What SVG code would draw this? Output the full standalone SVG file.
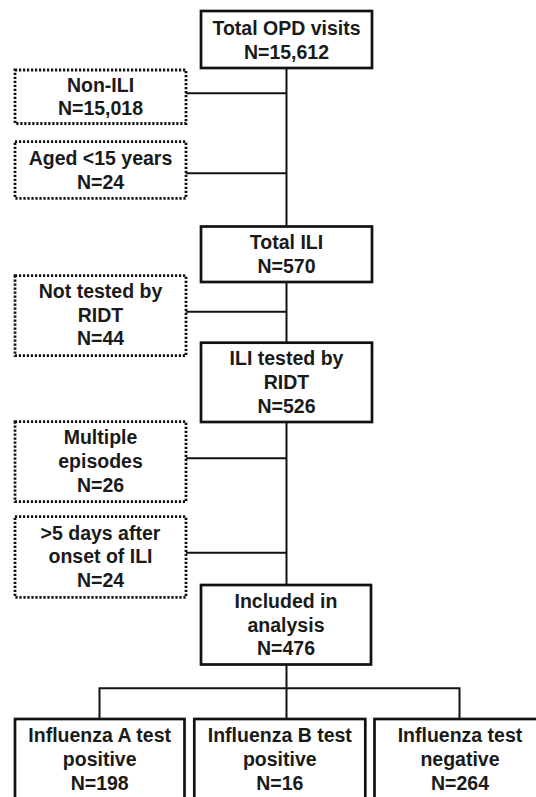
<svg xmlns="http://www.w3.org/2000/svg" width="536" height="797" viewBox="0 0 536 797">
<style>
  .box { fill: #ffffff; stroke: #111111; stroke-width: 2.7; }
  .dot { fill: #ffffff; stroke: #111111; stroke-width: 2.8; stroke-dasharray: 2.2 1.8; }
  .edge { fill: none; stroke: #111111; stroke-width: 2; }
  text { font-family: "Liberation Sans", Arial, sans-serif; font-weight: bold; font-size: 19.5px; fill: #1a1a1a; text-anchor: middle; }
</style>
<rect x="0" y="0" width="536" height="797" fill="#ffffff"/>
<g id="connectors">
  <path class="edge" d="M286.5,68 V226.5"/>
  <path class="edge" d="M186,93.3 H286.5"/>
  <path class="edge" d="M186,173.3 H286.5"/>
  <path class="edge" d="M286.5,282 V342.7"/>
  <path class="edge" d="M186,311.7 H286.5"/>
  <path class="edge" d="M286.5,422 V585"/>
  <path class="edge" d="M186,458.3 H286.5"/>
  <path class="edge" d="M186,552.7 H286.5"/>
  <path class="edge" d="M286.5,664.5 V719"/>
  <path class="edge" d="M99.5,719 V688.3 H459.5 V719"/>
</g>
<g id="total-opd">
  <rect class="box" x="201" y="11" width="171" height="57"/>
  <text x="286.5" y="35">Total OPD visits</text>
  <text x="286.5" y="59">N=15,612</text>
</g>
<g id="non-ili">
  <rect class="dot" x="15" y="70" width="171" height="53.5"/>
  <text x="100.5" y="91.7">Non-ILI</text>
  <text x="100.5" y="115">N=15,018</text>
</g>
<g id="aged">
  <rect class="dot" x="15" y="141.7" width="171" height="56.6"/>
  <text x="100.5" y="165">Aged &lt;15 years</text>
  <text x="100.5" y="188.5">N=24</text>
</g>
<g id="total-ili">
  <rect class="box" x="201" y="226.5" width="171" height="55.5"/>
  <text x="286.5" y="249.3">Total ILI</text>
  <text x="286.5" y="273.3">N=570</text>
</g>
<g id="not-tested">
  <rect class="dot" x="15" y="275.7" width="171" height="80"/>
  <text x="100.5" y="298">Not tested by</text>
  <text x="100.5" y="321.7">RIDT</text>
  <text x="100.5" y="345">N=44</text>
</g>
<g id="ili-tested">
  <rect class="box" x="201" y="342.7" width="171" height="79.3"/>
  <text x="286.5" y="365">ILI tested by</text>
  <text x="286.5" y="389">RIDT</text>
  <text x="286.5" y="412.5">N=526</text>
</g>
<g id="multiple">
  <rect class="dot" x="15" y="421.7" width="171" height="80"/>
  <text x="100.5" y="444">Multiple</text>
  <text x="100.5" y="468">episodes</text>
  <text x="100.5" y="491.7">N=26</text>
</g>
<g id="late">
  <rect class="dot" x="15" y="516.7" width="171" height="80.6"/>
  <text x="100.5" y="540">&gt;5 days after</text>
  <text x="100.5" y="563.3">onset of ILI</text>
  <text x="100.5" y="586.7">N=24</text>
</g>
<g id="included">
  <rect class="box" x="201" y="585" width="170" height="79.5"/>
  <text x="286" y="607.5">Included in</text>
  <text x="286" y="631.5">analysis</text>
  <text x="286" y="655">N=476</text>
</g>
<g id="flu-a">
  <rect class="box" x="15" y="719" width="169.5" height="100"/>
  <text x="99.7" y="741.7">Influenza A test</text>
  <text x="99.7" y="766">positive</text>
  <text x="99.7" y="790">N=198</text>
</g>
<g id="flu-b">
  <rect class="box" x="194.3" y="719" width="171" height="100"/>
  <text x="279.8" y="741.7">Influenza B test</text>
  <text x="279.8" y="766">positive</text>
  <text x="279.8" y="790">N=16</text>
</g>
<g id="flu-neg">
  <rect class="box" x="374.5" y="719" width="171" height="100"/>
  <text x="460" y="741.7">Influenza test</text>
  <text x="460" y="766">negative</text>
  <text x="460" y="790">N=264</text>
</g>
</svg>
